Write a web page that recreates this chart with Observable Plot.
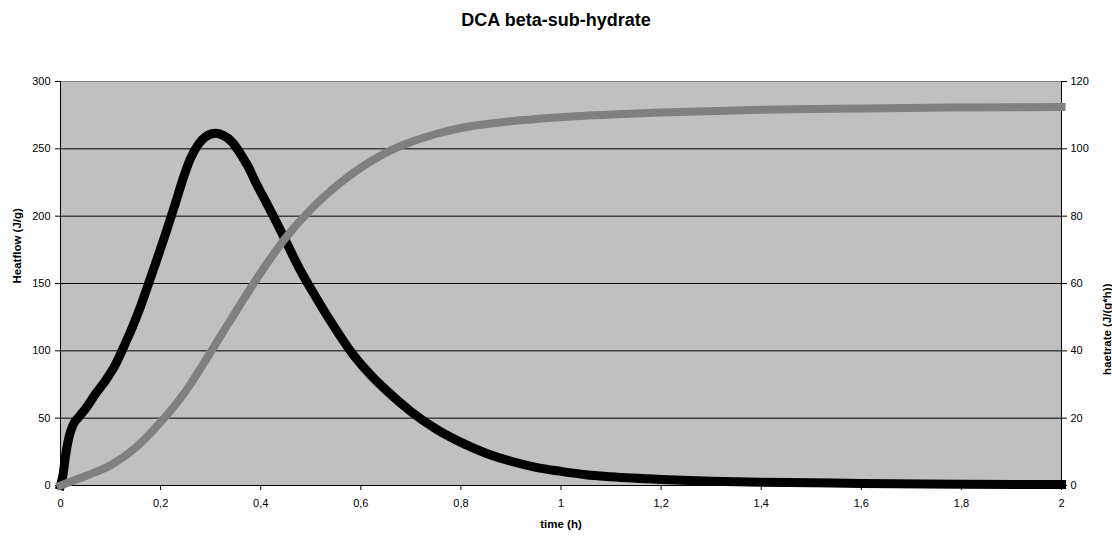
<!DOCTYPE html>
<html><head><meta charset="utf-8">
<script src="https://cdn.jsdelivr.net/npm/d3@7"></script>
<script src="https://cdn.jsdelivr.net/npm/@observablehq/plot@0.6"></script>
<style>
body{margin:0;background:#fff;font-family:"Liberation Sans",Arial,sans-serif}
#title{height:40px;line-height:40px;text-align:center;font-weight:bold;font-size:18px;color:#000}
</style></head>
<body>
<div id="title">DCA beta-sub-hydrate</div>
<div id="chart"></div>
<script>
// Heatflow (J/g) — gray curve, left axis
const flowTime = [0,0.05,0.1,0.15,0.2,0.25,0.3,0.35,0.4,0.45,0.5,0.55,0.6,0.65,0.7,0.75,0.8,0.9,1.0,1.1,1.2,1.4,1.6,1.8,2.0];
const flowValue = [0,7,15,28,47,70,99,129,158,184,205,222,236,247,255,261,265.5,270.5,273.5,275.5,277,279,280,280.7,281];
// haetrate (J/(g*h)) — black curve, right axis
const rateTime = [0,0.005,0.01,0.017,0.025,0.037,0.05,0.07,0.09,0.11,0.13,0.143,0.16,0.176,0.19,0.21,0.23,0.245,0.26,0.275,0.29,0.31,0.325,0.343,0.36,0.376,0.39,0.41,0.443,0.476,0.51,0.543,0.583,0.62,0.65,0.7,0.75,0.8,0.85,0.9,0.95,1.0,1.05,1.1,1.2,1.3,1.4,1.5,1.6,1.8,2.0];
const rateValue = [0,3.2,8.8,14.4,18,20.4,22.8,27.2,31.2,36,42.4,46.8,53.2,60,66,74.8,84,91.2,97.2,101.2,103.6,104.6,104,102,98.4,94.4,90,84.4,74.8,64.8,56,48,39.2,32.8,28.4,22,16.8,12.8,9.6,7.2,5.4,4.2,3.2,2.6,1.8,1.28,1,0.8,0.6,0.4,0.28];
const xTicks = [0,0.2,0.4,0.6,0.8,1,1.2,1.4,1.6,1.8,2];
const leftTicks = [0,50,100,150,200,250,300];
const rightTicks = [0,20,40,60,80,100,120];
const leftLabel = "Heatflow (J/g)";
const rightLabel = "haetrate (J/(g*h))";
const xLabel = "time (h)";

const ratio = 300 / 120;
const flow = flowTime.map((t, i) => ({t, v: flowValue[i]}));
const rate = rateTime.map((t, i) => ({t, v: rateValue[i]}));

const chart = Plot.plot({
  width: 1112, height: 497,
  marginLeft: 60, marginRight: 51, marginTop: 41, marginBottom: 52,
  style: {fontFamily: "Liberation Sans, Arial, sans-serif", fontSize: "11px", color: "#000", background: "#fff", overflow: "visible"},
  x: {domain: [0, 2]},
  y: {domain: [0, 300]},
  marks: [
    Plot.frame({fill: "#c0c0c0", stroke: "#808080"}),
    Plot.ruleY(leftTicks.filter(v => v > 0 && v < 300), {stroke: "#000", strokeWidth: 1}),
    Plot.ruleX([0, 2], {stroke: "#000", strokeWidth: 1}),
    Plot.ruleY([0], {stroke: "#000", strokeWidth: 1}),
    Plot.axisX(xTicks, {tickSize: 5, tickPadding: 9, tickFormat: d => String(d).replace(".", ","), label: null, stroke: "#000"}),
    Plot.axisY(leftTicks, {anchor: "left", tickSize: 5, tickPadding: 5, label: null, stroke: "#000"}),
    Plot.axisY(rightTicks.map(v => v * ratio), {anchor: "right", tickSize: 5, tickPadding: 4, tickFormat: d => String(Math.round(d / ratio)), label: null, stroke: "#000"}),
    Plot.line(rate, {x: "t", y: d => d.v * ratio, stroke: "#000", strokeWidth: 9, curve: "monotone-x", strokeLinecap: "square", strokeLinejoin: "round"}),
    Plot.line(flow, {x: "t", y: "v", stroke: "#808080", strokeWidth: 8, curve: "monotone-x", strokeLinecap: "square", strokeLinejoin: "round"}),
    Plot.text([leftLabel], {text: d => d, frameAnchor: "left", dx: -43, rotate: -90, fontWeight: "bold", fontSize: 11.5}),
    Plot.text([rightLabel], {text: d => d, frameAnchor: "right", dx: 46, rotate: -90, fontWeight: "bold", fontSize: 11.5}),
    Plot.text([xLabel], {text: d => d, frameAnchor: "bottom", dy: 42, fontWeight: "bold", fontSize: 11.5})
  ]
});
document.getElementById("chart").appendChild(chart);
</script>
</body></html>
